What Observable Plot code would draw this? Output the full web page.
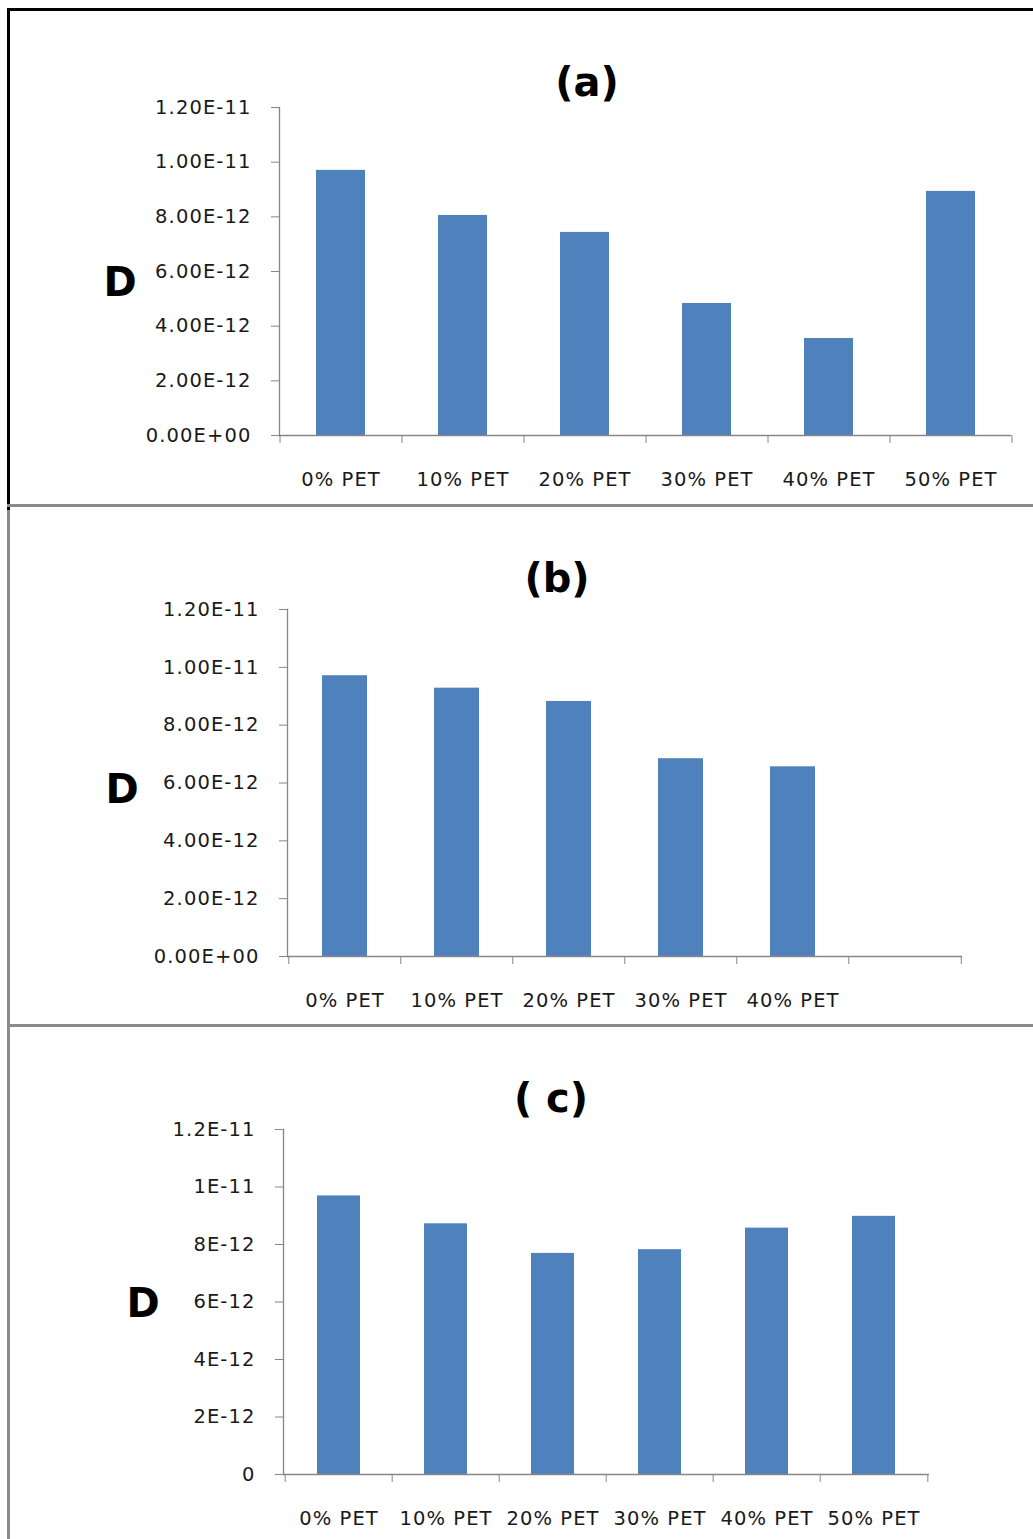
<!DOCTYPE html>
<html><head><meta charset="utf-8">
<script src="https://cdn.jsdelivr.net/npm/d3@7"></script>
<script src="https://cdn.jsdelivr.net/npm/@observablehq/plot@0.6"></script>
<style>
body{margin:0;background:#fff;}
#wrap{position:relative;width:1033px;height:1539px;overflow:hidden;font-family:"DejaVu Sans",sans-serif;background:#fff;}
.panel{position:absolute;left:0;}
.lbl{position:absolute;transform:translate(-50%,-50%);font-weight:bold;white-space:pre;color:#000;line-height:1;}
.title{font-size:40px;}
.dlab{font-size:40px;}
.line{position:absolute;z-index:5;}
</style></head><body><div id="wrap"></div>
<script>
const categories = ["0% PET", "10% PET", "20% PET", "30% PET", "40% PET", "50% PET"];
const valuesA = [9.70e-12, 8.05e-12, 7.43e-12, 4.83e-12, 3.55e-12, 8.93e-12];
const categoriesB = ["0% PET", "10% PET", "20% PET", "30% PET", "40% PET"];
const valuesB = [9.71e-12, 9.28e-12, 8.82e-12, 6.84e-12, 6.56e-12];
const valuesC = [9.69e-12, 8.72e-12, 7.69e-12, 7.82e-12, 8.57e-12, 8.98e-12];
const yTicks = [0, 2e-12, 4e-12, 6e-12, 8e-12, 1e-11, 1.2e-11];
const titles = ["(a)", "(b)", "( c)"];
const yLabel = "D";

function expStr(m, e) {
  const n = +e;
  return m + "E" + (n < 0 ? "-" : "+") + String(Math.abs(n)).padStart(2, "0");
}
const fmtFixed = v => { const [m, e] = v.toExponential(2).split("e"); return expStr(m, e); };
const fmtGeneral = v => { if (v === 0) return "0"; const [m, e] = v.toExponential().split("e"); return expStr(m, e); };

const wrap = document.getElementById("wrap");
const W = 1033;

function panel({top, height, mt, mb, ml, mr, cats, values, labels, fmt, title, tx, ty, dxp, dyp}) {
  const data = cats.map((c, i) => ({cat: c, D: values[i]}));
  const step = (W - ml - mr) / categories.length;
  const axisColor = "#868686";
  const plot = Plot.plot({
    width: W, height,
    marginTop: mt, marginBottom: mb, marginLeft: ml, marginRight: mr,
    style: {background: "transparent", fontFamily: "'DejaVu Sans', sans-serif", fontSize: "19.5px", color: "#1a1a1a", letterSpacing: "1.1px", overflow: "visible"},
    x: {domain: categories, paddingInner: 0.6, paddingOuter: 0.3, axis: null},
    y: {domain: [0, 1.2e-11], axis: null},
    marks: [
      Plot.barY(data, {x: "cat", y: "D", fill: "#4F81BD"}),
      Plot.frame({anchor: "left", stroke: axisColor, strokeWidth: 1.3}),
      Plot.ruleY([0], {stroke: axisColor, strokeWidth: 1.3}),
      Plot.axisY({ticks: yTicks, tickFormat: fmt, tickSize: 8, tickPadding: 20, stroke: axisColor, fill: "#1a1a1a", label: null}),
      Plot.axisX({ticks: categories, tickSize: 8, tickFormat: () => "", dx: -step / 2, stroke: axisColor, label: null}),
      Plot.axisX({ticks: [categories[categories.length - 1]], tickSize: 8, tickFormat: () => "", dx: step / 2, stroke: axisColor, label: null}),
      Plot.axisX({ticks: labels, tickSize: 0, tickPadding: 37, fill: "#1a1a1a", label: null})
    ]
  });
  plot.classList.add("panel");
  plot.style.top = top + "px";
  wrap.appendChild(plot);
  const t = document.createElement("div");
  t.className = "lbl title"; t.textContent = title;
  t.style.left = tx + "px"; t.style.top = ty + "px";
  wrap.appendChild(t);
  const d = document.createElement("div");
  d.className = "lbl dlab"; d.textContent = yLabel;
  d.style.left = dxp + "px"; d.style.top = dyp + "px";
  wrap.appendChild(d);
}

panel({top: 0, height: 506, mt: 107, mb: 71, ml: 279, mr: 22, cats: categories, values: valuesA, labels: categories, fmt: fmtFixed, title: titles[0], tx: 587, ty: 82, dxp: 120, dyp: 282});
panel({top: 506, height: 519, mt: 103, mb: 69, ml: 287, mr: 71, cats: categoriesB, values: valuesB, labels: categoriesB, fmt: fmtFixed, title: titles[1], tx: 557, ty: 578, dxp: 122, dyp: 789});
panel({top: 1025, height: 514, mt: 104, mb: 65, ml: 283, mr: 104, cats: categories, values: valuesC, labels: categories, fmt: fmtGeneral, title: titles[2], tx: 551, ty: 1098, dxp: 143, dyp: 1303});

function line(l, t, w, h, c) {
  const e = document.createElement("div");
  e.className = "line";
  Object.assign(e.style, {left: l + "px", top: t + "px", width: w + "px", height: h + "px", background: c});
  wrap.appendChild(e);
}
line(7, 8, 1026, 3, "#000");
line(7, 506, 3, 1033, "#8a8a8a");
line(7, 8, 3, 502, "#000");
line(7, 504, 1026, 3, "#8a8a8a");
line(7, 1024, 1026, 3, "#8a8a8a");
</script></body></html>
